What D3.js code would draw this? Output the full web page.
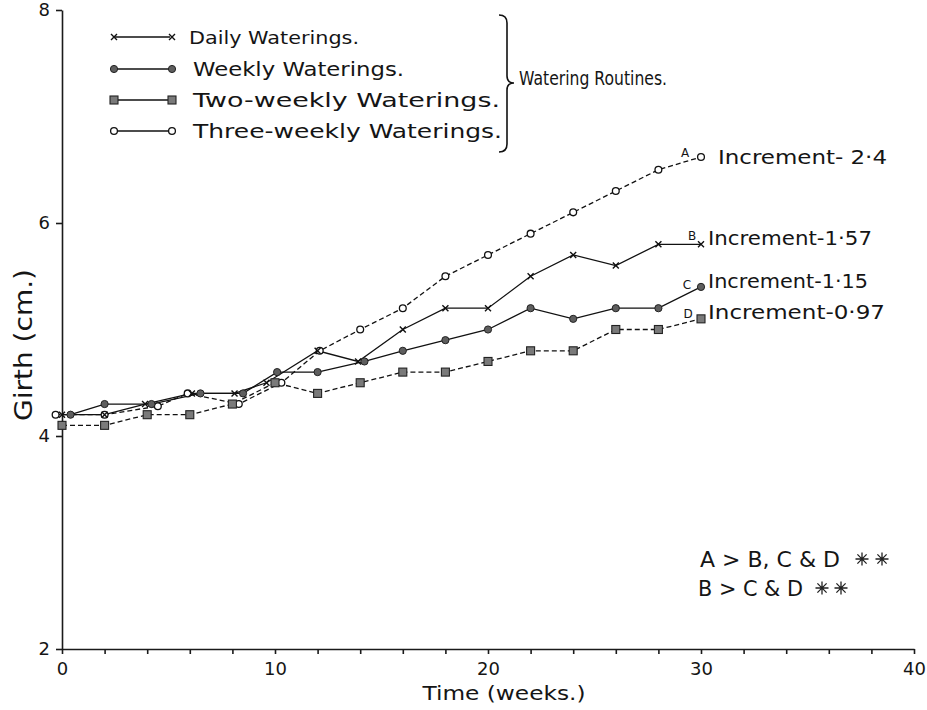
<!DOCTYPE html>
<html lang="en">
<head>
<meta charset="UTF-8">
<title>Girth vs Time - Watering Routines</title>
<script src="https://d3js.org/d3.v7.min.js"></script>
<style>
  body { margin: 0; background: #fff; }
  svg { display: block; background: #fff; }
  text { font-family: "DejaVu Sans", sans-serif; fill: #151515; }
  .axis path, .axis line { stroke: #1a1a1a; stroke-width: 1.6px; }
  .axis text { font-size: 18px; fill: #151515; }
</style>
</head>
<body>
<script>
// --- data (girth in cm, time in weeks) ---
const weeksDaily       = [0, 2, 3.9, 6.1, 8.1, 9.6, 12, 13.9, 16, 18, 20, 22, 24, 26, 28, 30];
const girthDaily       = [4.2, 4.2, 4.3, 4.4, 4.4, 4.5, 4.8, 4.7, 5.0, 5.2, 5.2, 5.5, 5.7, 5.6, 5.8, 5.8];
const weeksWeekly      = [0.4, 2, 4.2, 6.5, 8.5, 10.1, 12, 14.2, 16, 18, 20, 22, 24, 26, 28, 30];
const girthWeekly      = [4.2, 4.3, 4.3, 4.4, 4.4, 4.6, 4.6, 4.7, 4.8, 4.9, 5.0, 5.2, 5.1, 5.2, 5.2, 5.4];
const weeksTwoWeekly   = [0, 2, 4, 6, 8, 10, 12, 14, 16, 18, 20, 22, 24, 26, 28, 30];
const girthTwoWeekly   = [4.1, 4.1, 4.2, 4.2, 4.3, 4.5, 4.4, 4.5, 4.6, 4.6, 4.7, 4.8, 4.8, 5.0, 5.0, 5.1];
const weeksThreeWeekly = [-0.3, 2, 4.5, 5.9, 8.3, 10.3, 12.1, 14, 16, 18, 20, 22, 24, 26, 28, 30];
const girthThreeWeekly = [4.2, 4.2, 4.28, 4.4, 4.3, 4.5, 4.8, 5.0, 5.2, 5.5, 5.7, 5.9, 6.1, 6.3, 6.5, 6.62];

// legend order: daily, weekly, two-weekly, three-weekly
const legendLabels = ["Daily Waterings.", "Weekly Waterings.", "Two-weekly Waterings.", "Three-weekly Waterings."];
const curveLetters = ["B", "C", "D", "A"];
const incrementLabels = ["Increment-1\u00B757", "Increment-1\u00B715", "Increment-0\u00B797", "Increment- 2\u00B74"];
const xTickValues = d3.range(0, 41, 2);
const xTickLabels = [0, 10, 20, 30, 40];
const yTickValues = [2, 4, 6, 8];

const width = 927, height = 710;
const svg = d3.select("body").append("svg")
  .attr("width", width).attr("height", height);

const x = d3.scaleLinear().domain([0, 40]).range([62, 914]);
const y = d3.scaleLinear().domain([2, 8]).range([649, 10]);

// axes
svg.append("g").attr("class", "axis")
  .attr("transform", `translate(0,${y(2)})`)
  .call(d3.axisBottom(x).tickValues(xTickValues).tickSize(5).tickSizeOuter(0)
    .tickPadding(8)
    .tickFormat(d => xTickLabels.includes(d) ? d : ""));

svg.append("g").attr("class", "axis")
  .attr("transform", `translate(${x(0)},0)`)
  .call(d3.axisLeft(y).tickValues(yTickValues).tickSize(6).tickSizeOuter(0)
    .tickPadding(6).tickFormat(d3.format("d")));

// axis titles
svg.append("text")
  .attr("x", 504).attr("y", 700)
  .attr("text-anchor", "middle")
  .attr("font-size", 20)
  .attr("textLength", 163).attr("lengthAdjust", "spacingAndGlyphs")
  .text("Time (weeks.)");

svg.append("text")
  .attr("transform", "translate(32,345) rotate(-90)")
  .attr("text-anchor", "middle")
  .attr("font-size", 25)
  .attr("textLength", 152).attr("lengthAdjust", "spacingAndGlyphs")
  .text("Girth (cm.)");

// series
const series = [
  { name: legendLabels[0], weeks: weeksDaily,       girth: girthDaily,       marker: "cross",  dash: null },
  { name: legendLabels[1], weeks: weeksWeekly,      girth: girthWeekly,      marker: "dot",    dash: null },
  { name: legendLabels[2], weeks: weeksTwoWeekly,   girth: girthTwoWeekly,   marker: "square", dash: "5,3" },
  { name: legendLabels[3], weeks: weeksThreeWeekly, girth: girthThreeWeekly, marker: "ring",   dash: "5,3" }
];
series.forEach(s => { s.points = s.weeks.map((w, i) => ({ w: w, g: s.girth[i] })); });

function drawMarker(g, type, cx, cy) {
  if (type === "cross") {
    const r = 3;
    g.append("path")
      .attr("d", `M${cx - r},${cy - r}L${cx + r},${cy + r}M${cx - r},${cy + r}L${cx + r},${cy - r}`)
      .attr("stroke", "#111").attr("stroke-width", 1.4).attr("fill", "none");
  } else if (type === "dot") {
    g.append("circle").attr("cx", cx).attr("cy", cy).attr("r", 3.6)
      .attr("fill", "#5e5e5e").attr("stroke", "#222").attr("stroke-width", 1);
  } else if (type === "square") {
    g.append("rect").attr("x", cx - 4).attr("y", cy - 4).attr("width", 8).attr("height", 8)
      .attr("fill", "#7a7a7a").attr("stroke", "#222").attr("stroke-width", 1.1);
  } else {
    g.append("circle").attr("cx", cx).attr("cy", cy).attr("r", 3.4)
      .attr("fill", "#fff").attr("stroke", "#111").attr("stroke-width", 1.3);
  }
}

const line = d3.line().x(d => x(d.w)).y(d => y(d.g));

const plot = svg.append("g");
series.forEach(s => {
  plot.append("path")
    .datum(s.points)
    .attr("d", line)
    .attr("fill", "none")
    .attr("stroke", "#111")
    .attr("stroke-width", 1.3)
    .attr("stroke-dasharray", s.dash);
});
// markers drawn after all lines so lines do not cover them
[3, 2, 1, 0].forEach(i => {
  const s = series[i];
  const mg = plot.append("g");
  s.points.forEach(p => drawMarker(mg, s.marker, x(p.w), y(p.g)));
});

// end labels: letter + increment text (series order)
const letterOffsets = [[-9, -4], [-14, 2], [-13, -1], [-16, 0]];
const labelOffsets = [[7, 1], [7, 1], [7, 0], [17, 7]];
const labelWidths = [164, 160, 177, 169];
series.forEach((s, i) => {
  const last = s.points[s.points.length - 1];
  const lx = x(last.w), ly = y(last.g);
  svg.append("text")
    .attr("x", lx + letterOffsets[i][0]).attr("y", ly + letterOffsets[i][1])
    .attr("text-anchor", "middle")
    .attr("font-size", 12)
    .text(curveLetters[i]);
  svg.append("text")
    .attr("x", lx + labelOffsets[i][0]).attr("y", ly + labelOffsets[i][1])
    .attr("font-size", 20)
    .attr("textLength", labelWidths[i]).attr("lengthAdjust", "spacingAndGlyphs")
    .text(incrementLabels[i]);
});

// legend
const legendRowY = [37, 69, 100, 131];
const legendTextX = [189, 193, 193, 193];
const legendTextW = [170, 211, 307, 309];
const legendFont = [17, 20, 20, 20];
const legend = svg.append("g");
series.forEach((s, i) => {
  const ry = legendRowY[i];
  legend.append("line")
    .attr("x1", 115).attr("x2", 170).attr("y1", ry).attr("y2", ry)
    .attr("stroke", "#111").attr("stroke-width", 1.3);
  drawMarker(legend, s.marker, 114, ry);
  drawMarker(legend, s.marker, 172, ry);
  legend.append("text")
    .attr("x", legendTextX[i]).attr("y", ry + 7)
    .attr("font-size", legendFont[i])
    .attr("textLength", legendTextW[i]).attr("lengthAdjust", "spacingAndGlyphs")
    .text(s.name);
});

// brace grouping the legend
svg.append("path")
  .attr("d", "M499,15 Q507,15 507,23 L507,76 Q507,83 514,83 Q507,83 507,90 L507,144 Q507,152 499,152")
  .attr("fill", "none").attr("stroke", "#111").attr("stroke-width", 1.6);
svg.append("text")
  .attr("x", 519).attr("y", 85)
  .attr("font-size", 19)
  .attr("textLength", 148).attr("lengthAdjust", "spacingAndGlyphs")
  .text("Watering Routines.");

// significance notes, each followed by two eight-spoked asterisks
const notes = [
  { text: "A > B, C & D", x: 700, y: 567, w: 140, stars: [862, 882] },
  { text: "B > C & D", x: 698, y: 596, w: 105, stars: [822, 841] }
];
function drawStar(cx, cy, r) {
  let d = "";
  for (let k = 0; k < 4; k++) {
    const a = k * Math.PI / 4;
    const dx = r * Math.cos(a), dy = r * Math.sin(a);
    d += `M${cx - dx},${cy - dy}L${cx + dx},${cy + dy}`;
  }
  svg.append("path").attr("d", d)
    .attr("stroke", "#222").attr("stroke-width", 1.3).attr("fill", "none");
}
notes.forEach(n => {
  svg.append("text")
    .attr("x", n.x).attr("y", n.y)
    .attr("font-size", 22)
    .attr("textLength", n.w).attr("lengthAdjust", "spacingAndGlyphs")
    .text(n.text);
  n.stars.forEach(sx => drawStar(sx, n.y - 8, 6.5));
});
</script>
</body>
</html>
